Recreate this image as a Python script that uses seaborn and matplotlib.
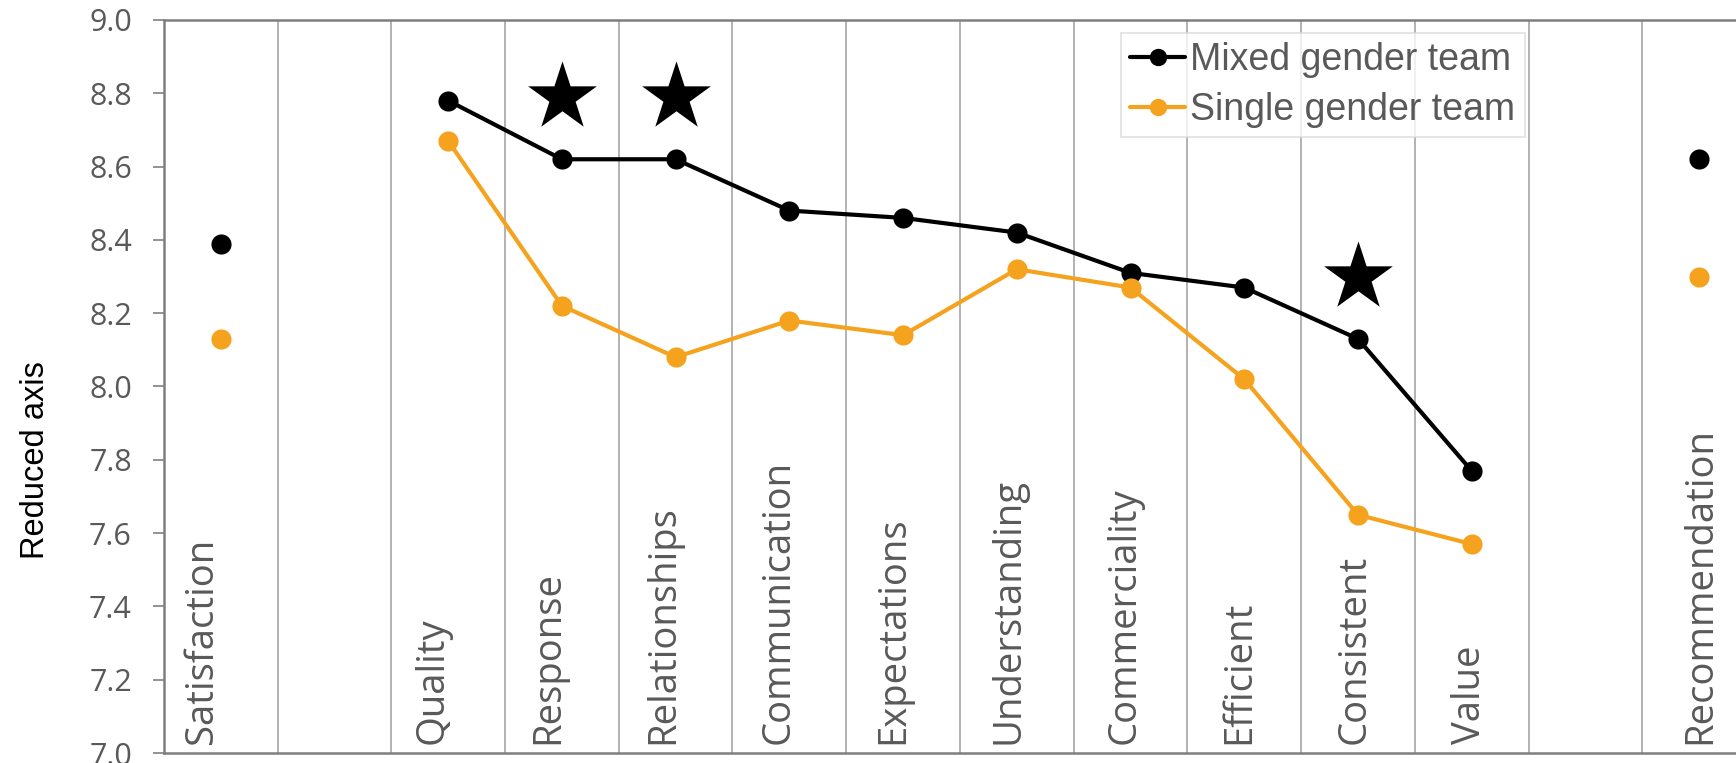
import numpy as np
import pandas as pd
import matplotlib
matplotlib.use("Agg")
import matplotlib.pyplot as plt
from matplotlib.lines import Line2D
import seaborn as sns

categories = ["Satisfaction", "", "Quality", "Response", "Relationships", "Communication",
              "Expectations", "Understanding", "Commerciality", "Efficient", "Consistent",
              "Value", "", "Recommendation"]
mixed = [8.39, np.nan, 8.78, 8.62, 8.62, 8.48, 8.46, 8.42, 8.31, 8.27, 8.13, 7.77, np.nan, 8.62]
single = [8.13, np.nan, 8.67, 8.22, 8.08, 8.18, 8.14, 8.32, 8.27, 8.02, 7.65, 7.57, np.nan, 8.30]
series_names = ["Mixed gender team", "Single gender team"]
star_categories = ["Response", "Relationships", "Consistent"]
star_values = [8.79, 8.79, 8.30]
y_ticks = [7.0, 7.2, 7.4, 7.6, 7.8, 8.0, 8.2, 8.4, 8.6, 8.8, 9.0]

BLACK = "#000000"
ORANGE = "#F5A31E"
GRAY_TXT = "#595959"

sns.set_theme(style="white")
plt.rcParams["font.family"] = ["Open Sans", "DejaVu Sans"]

# long-format table with segment ids so gaps break the lines
rows = []
for name, vals in zip(series_names, [mixed, single]):
    seg = 0
    prev_nan = False
    for i, v in enumerate(vals):
        if np.isnan(v):
            prev_nan = True
            continue
        if prev_nan:
            seg += 1
            prev_nan = False
        rows.append({"pos": i, "value": v, "team": name, "segment": seg})
df = pd.DataFrame(rows)

fig = plt.figure(figsize=(17.36, 7.63), dpi=100)
ax = fig.add_axes([0.0944, 0.0131, 1.0115 - 0.0944, 0.9738 - 0.0131])

sns.lineplot(data=df, x="pos", y="value", hue="team", units="segment", estimator=None,
             hue_order=series_names, palette=[BLACK, ORANGE], marker="o", markersize=14.5,
             markeredgewidth=0, linewidth=3.0, legend=False, ax=ax, sort=False)

star_pos = [categories.index(c) for c in star_categories]
sns.scatterplot(x=star_pos, y=star_values, marker="*", s=52 ** 2, color=BLACK,
                linewidth=0, ax=ax, legend=False, zorder=5)

ax.set_xlim(-0.5, len(categories) - 0.5)
ax.set_ylim(7.0, 9.0)
ax.set_yticks(y_ticks)
ax.set_yticklabels([f"{t:.1f}" for t in y_ticks], fontsize=22, color=GRAY_TXT)
ax.tick_params(axis="y", which="major", length=8, width=1.2, color="#808080", pad=15, left=True)
ax.set_xticks([])
ax.set_xticks(np.arange(0.5, len(categories) - 0.5, 1.0), minor=True)
ax.tick_params(axis="x", which="both", length=0, labelbottom=False)
ax.grid(False)
ax.grid(True, axis="x", which="minor", color="#a6a6a6", linewidth=1.2)
ax.set_xlabel("")

for side in ["left", "top", "bottom"]:
    ax.spines[side].set_color("#7f7f7f")
    ax.spines[side].set_linewidth(1.8)
ax.spines["right"].set_visible(False)

for i, c in enumerate(categories):
    if c:
        ax.text(i - 0.075 + 0.0135 * i, 7.025, c, rotation=90, rotation_mode="anchor",
                ha="left", va="baseline", fontsize=27.5, color=GRAY_TXT,
                family=["Open Sans", "DejaVu Sans"])

ax.set_ylabel("Reduced axis", fontsize=23.5, color="black",
              family=["Liberation Sans", "DejaVu Sans"])
ax.yaxis.set_label_coords(-0.0707, 0.40)

handles = [Line2D([], [], color=BLACK, lw=3.0, marker="o", markersize=12.5, markeredgewidth=0),
           Line2D([], [], color=ORANGE, lw=3.0, marker="o", markersize=12.5, markeredgewidth=0)]
leg = ax.legend(handles, series_names, loc="upper left", bbox_to_anchor=(1121 / 1736, 1 - 33 / 763),
                bbox_transform=fig.transFigure, borderaxespad=0, frameon=True, fancybox=False,
                handlelength=1.45, handletextpad=0.15, labelspacing=0.36, borderpad=0.25,
                prop={"family": ["Liberation Sans", "DejaVu Sans"], "size": 27})
leg.get_frame().set_edgecolor("#d9d9d9")
leg.get_frame().set_linewidth(1.2)
for t in leg.get_texts():
    t.set_color(GRAY_TXT)

fig.savefig("out.png", dpi=100)
